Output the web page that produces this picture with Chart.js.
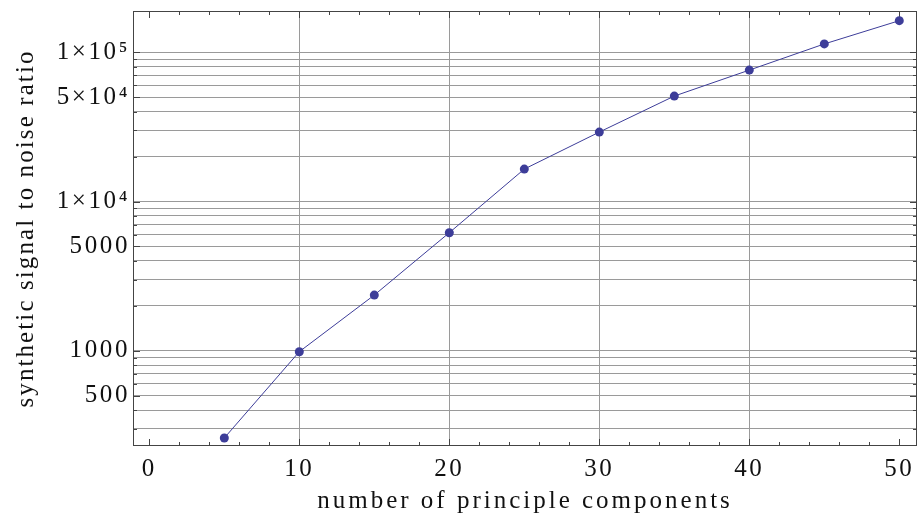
<!DOCTYPE html>
<html><head><meta charset="utf-8">
<script src="https://cdn.jsdelivr.net/npm/chart.js@4"></script>
<style>html,body{margin:0;padding:0;background:#fff;} canvas{display:block;}</style>
</head><body>
<canvas id="c" width="917" height="522"></canvas>
<script>
// ---- data ----
const components = [5, 10, 15, 20, 25, 30, 35, 40, 45, 50];
const snr = [260, 985, 2360, 6180, 16500, 29200, 50900, 76000, 113800, 163000];

// ---- axis ticks ----
const xTickValues = [0,2,4,6,8,10,12,14,16,18,20,22,24,26,28,30,32,34,36,38,40,42,44,46,48,50];
const xLabelValues = [0, 10, 20, 30, 40, 50];
const xGridValues = [10, 20, 30, 40];
const yLabelValues = [500, 1000, 5000, 10000, 50000, 100000];
const yTickLabels = ['500', '1000', '5000', '1×10⁴', '5×10⁴', '1×10⁵'];
const yMantissas = [1, 2, 3, 4, 5, 6, 7, 8, 9];
const yDecades = [100, 1000, 10000, 100000];
const xTitle = 'number of principle components';
const yTitle = 'synthetic signal to noise ratio';

const X_MIN = -1.087, X_MAX = 51.18;
const Y_MIN = 229.8, Y_MAX = 189200;

const yGridValues = [];
yDecades.forEach(d => yMantissas.forEach(m => {
  const v = m * d;
  if (v > Y_MIN && v < Y_MAX) yGridValues.push(v);
}));

const FONT = 'Liberation Serif, Times New Roman, serif';
const LS = '2.6px', LS_XTITLE = '3.0px', LS_YTITLE = '2.1px';
const gridColor = '#9a9a9a';
const frameColor = '#444444';
const seriesColor = '#3d3d99';

function wrapTitle(scale, ls) {
  if (!scale || scale._lsWrapped) return;
  const orig = scale.drawTitle;
  scale.drawTitle = function () {
    const c = this.ctx, prev = c.letterSpacing;
    c.letterSpacing = ls;
    orig.apply(this, arguments);
    c.letterSpacing = prev;
  };
  scale._lsWrapped = true;
}

const framePlugin = {
  id: 'frame',
  beforeLayout(chart) { chart.ctx.letterSpacing = LS; },
  beforeDraw(chart) {
    chart.ctx.letterSpacing = LS;
    wrapTitle(chart.scales.x, LS_XTITLE);
    wrapTitle(chart.scales.y, LS_YTITLE);
  },
  beforeDatasetsDraw(chart) {
    const ctx = chart.ctx, a = chart.chartArea;
    const xs = chart.scales.x, ys = chart.scales.y;
    ctx.save();
    ctx.strokeStyle = frameColor;
    ctx.lineWidth = 1;
    ctx.beginPath();
    xTickValues.forEach(v => {
      const px = Math.round(xs.getPixelForValue(v)) + 0.5;
      const len = xLabelValues.includes(v) ? 7 : 4;
      ctx.moveTo(px, a.bottom); ctx.lineTo(px, a.bottom - len);
      ctx.moveTo(px, a.top); ctx.lineTo(px, a.top + len);
    });
    yGridValues.forEach(v => {
      const py = Math.round(ys.getPixelForValue(v)) + 0.5;
      const len = yLabelValues.includes(v) ? 7 : 4;
      ctx.moveTo(a.left, py); ctx.lineTo(a.left + len, py);
      ctx.moveTo(a.right, py); ctx.lineTo(a.right - len, py);
    });
    ctx.stroke();
    ctx.strokeRect(a.left + 0.5, a.top + 0.5, a.right - a.left - 1, a.bottom - a.top - 1);
    ctx.restore();
  }
};

new Chart(document.getElementById('c'), {
  type: 'line',
  data: {
    datasets: [{
      data: components.map((x, i) => ({ x: x, y: snr[i] })),
      borderColor: seriesColor,
      borderWidth: 1,
      backgroundColor: seriesColor,
      pointBackgroundColor: seriesColor,
      pointBorderWidth: 0,
      pointRadius: 4.5,
      tension: 0,
      fill: false,
      clip: false
    }]
  },
  options: {
    responsive: false,
    animation: false,
    events: [],
    layout: { autoPadding: false, padding: { left: 0, right: 0, top: 11, bottom: 0 } },
    plugins: { legend: { display: false }, tooltip: { enabled: false } },
    scales: {
      x: {
        type: 'linear',
        min: X_MIN, max: X_MAX,
        afterBuildTicks: s => { s.ticks = xTickValues.map(v => ({ value: v })); },
        afterFit: s => { s.height = 76; s.paddingLeft = 0; s.paddingRight = 0; s.paddingTop = 0; s.paddingBottom = 0; },
        grid: {
          drawTicks: false,
          color: c => (c.tick && xGridValues.includes(c.tick.value)) ? gridColor : 'rgba(0,0,0,0)',
          lineWidth: 1
        },
        border: { display: false },
        ticks: {
          autoSkip: false, maxRotation: 0, padding: 8,
          color: '#111',
          font: { family: FONT, size: 25 },
          callback: v => xLabelValues.includes(v) ? String(v) : ''
        },
        title: {
          display: true, text: xTitle, color: '#111',
          font: { family: FONT, size: 25 },
          padding: { top: 0, bottom: 6 }
        }
      },
      y: {
        type: 'logarithmic',
        min: Y_MIN, max: Y_MAX,
        afterBuildTicks: s => { s.ticks = yGridValues.map(v => ({ value: v })); },
        afterFit: s => { s.width = 133; s.paddingTop = 0; s.paddingBottom = 0; s.paddingLeft = 0; s.paddingRight = 0; },
        grid: { drawTicks: false, color: gridColor, lineWidth: 1 },
        border: { display: false },
        ticks: {
          autoSkip: false, padding: 3,
          color: '#111',
          font: { family: FONT, size: 25 },
          callback: v => { const i = yLabelValues.indexOf(v); return i >= 0 ? yTickLabels[i] : ''; }
        },
        title: {
          display: true, text: yTitle, color: '#111',
          font: { family: FONT, size: 25 },
          padding: { top: 11, bottom: 0 }
        }
      }
    }
  },
  plugins: [framePlugin]
});
</script>
</body></html>
